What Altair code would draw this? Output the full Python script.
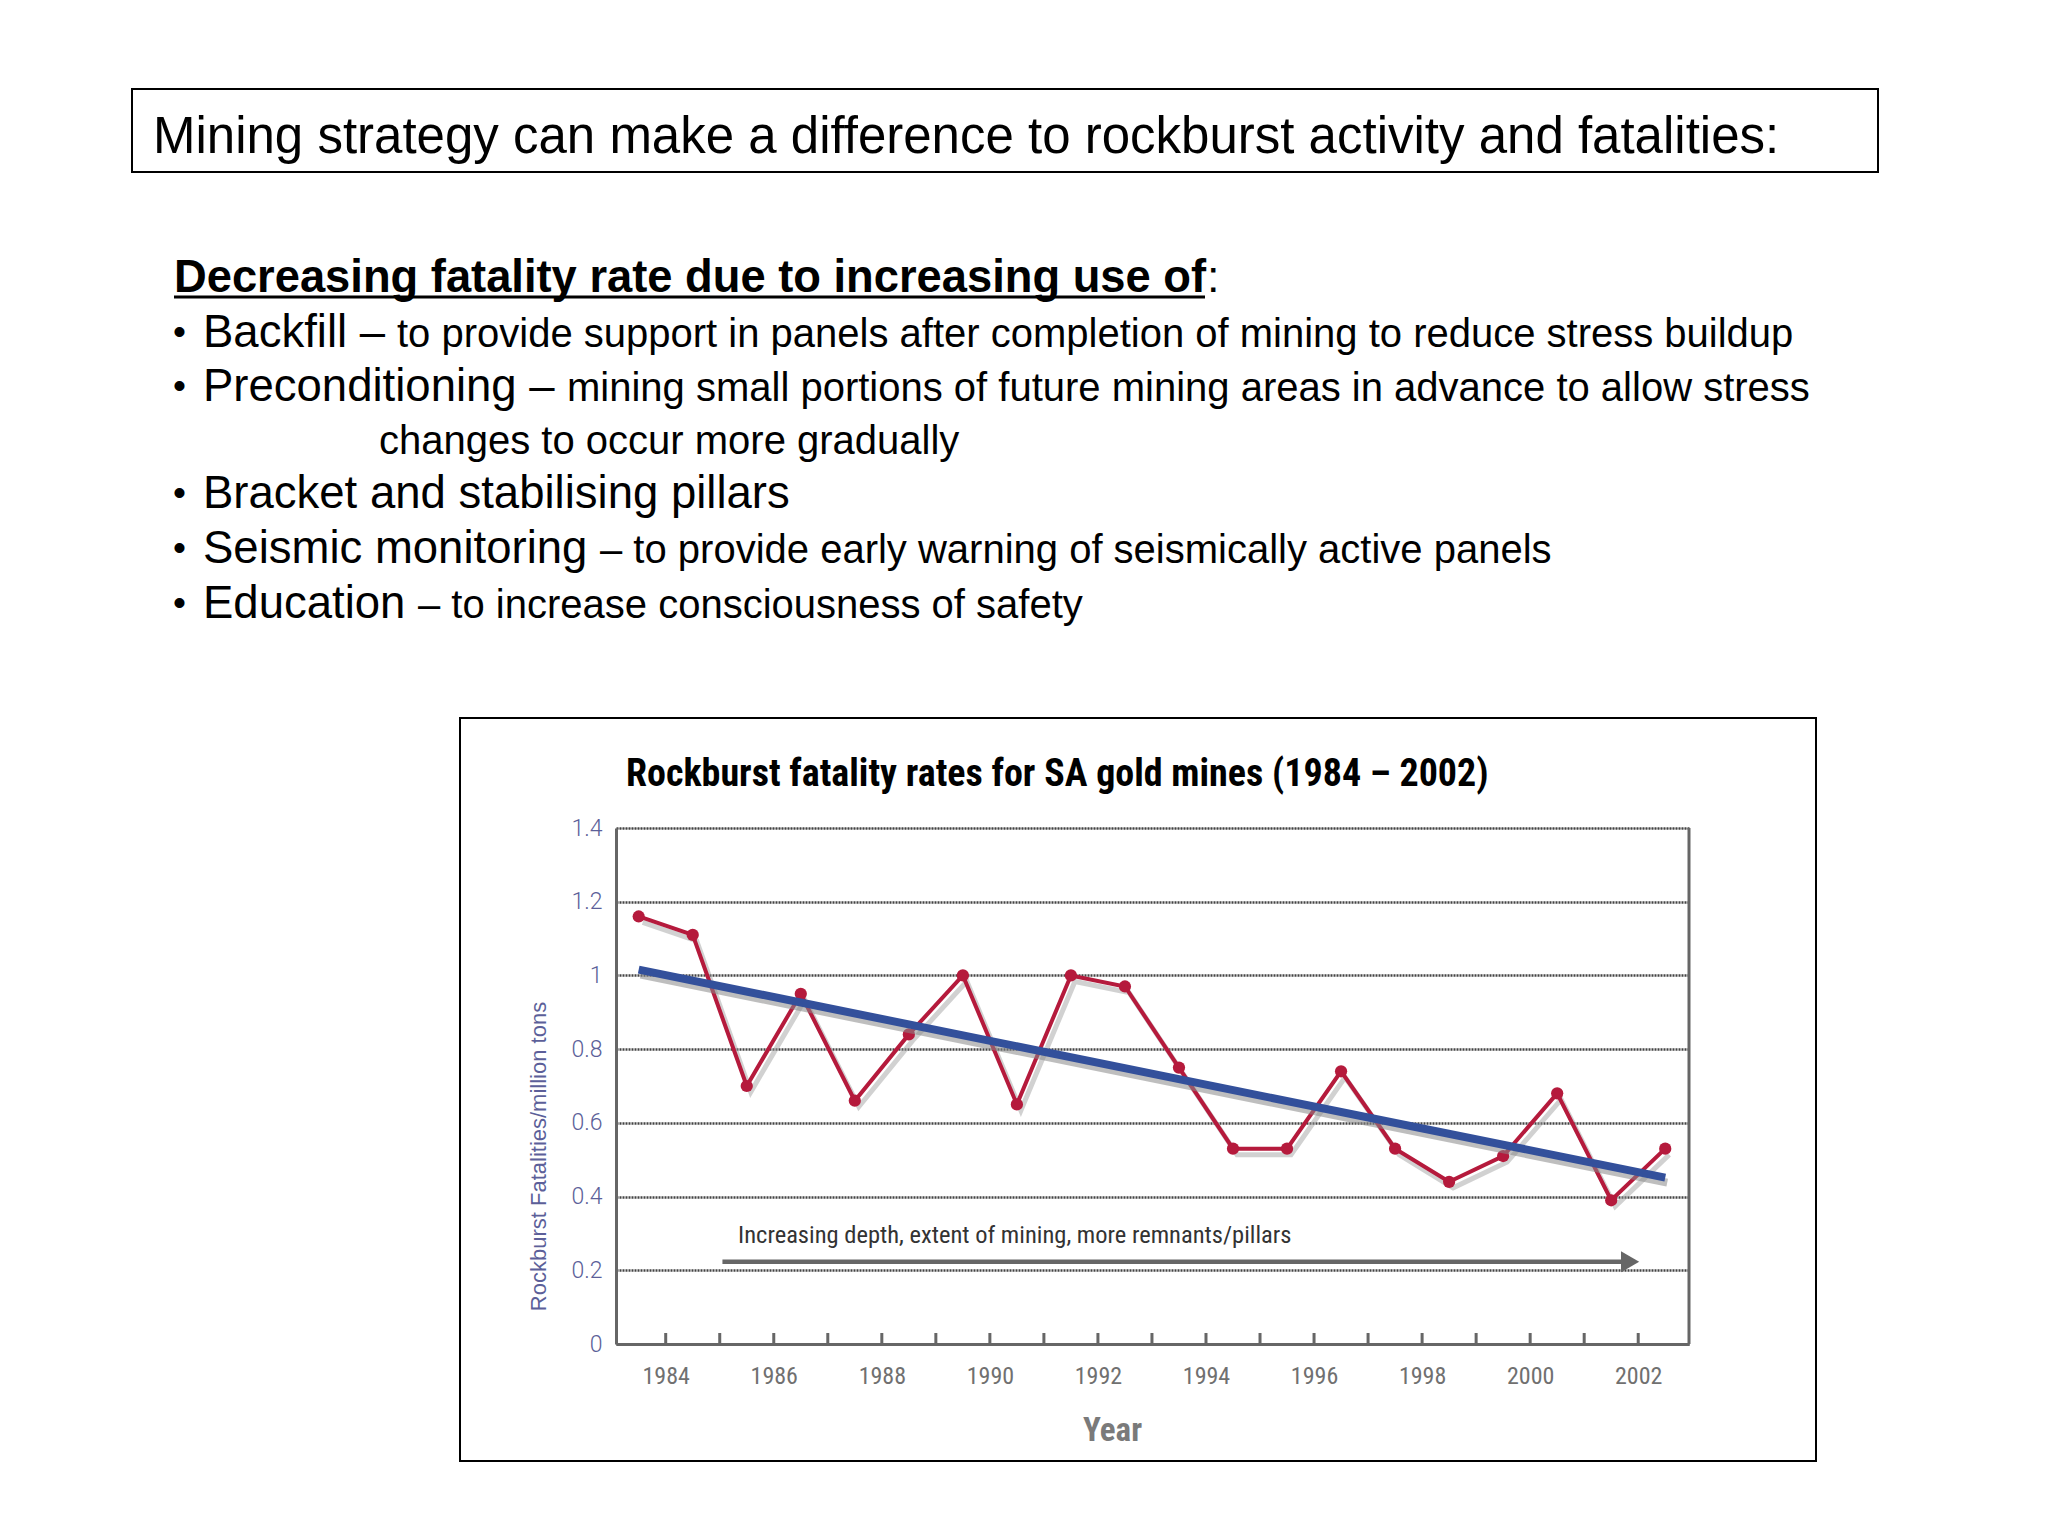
import altair as alt
import pandas as pd

# ---------------- data ----------------
years = list(range(1983, 2003))          # 20 annual observations (plotted mid-year)
rate = [1.16, 1.11, 0.70, 0.95, 0.66, 0.84, 1.00, 0.65, 1.00, 0.97,
        0.75, 0.53, 0.53, 0.74, 0.53, 0.44, 0.51, 0.68, 0.39, 0.53]
tick_years = list(range(1984, 2003))
label_years = list(range(1984, 2003, 2))
y_ticks = [0, 0.2, 0.4, 0.6, 0.8, 1, 1.2, 1.4]

arrow_from = [1985.05]
arrow_to = [2001.75]
arrow_head = [2001.85]
arrow_level = [0.223]
note_x = [1985.34]
note_level = [0.275]

slide_title = "Mining strategy can make a difference to rockburst activity and fatalities:"
heading = "Decreasing fatality rate due to increasing use of"
bullet_main = ["Backfill –", "Preconditioning –", "Bracket and stabilising pillars",
               "Seismic monitoring", "Education"]
bullet_detail = ["to provide support in panels after completion of mining to reduce stress buildup",
                 "mining small portions of future mining areas in advance to allow stress",
                 "",
                 "– to provide early warning of seismically active panels",
                 "– to increase consciousness of safety"]
continuation = "changes to occur more gradually"
chart_title = "Rockburst fatality rates for SA gold mines (1984 – 2002)"
note = "Increasing depth, extent of mining, more remnants/pillars"
y_title = "Rockburst  Fatalities/million tons"
x_title = "Year"

# ---------------- layout constants ----------------
OX, OY = 616, 828          # page position of plot origin
W, H = 1073, 516
SANS = "Liberation Sans"
NARROW = "Liberation Sans Narrow, Arial Narrow, Roboto Condensed, Liberation Sans"
RED = "#b51a3c"
BLUE = "#33509b"
GRAY = "#666666"
YBLUE = "#5c5f99"

df = pd.DataFrame({"year": years, "rate": rate})

xscale = alt.Scale(domain=[1983.08, 2002.94], nice=False, zero=False)
yscale = alt.Scale(domain=[0, 1.4], nice=False)

xaxis = alt.Axis(values=label_years, format="d", ticks=False, tickSize=0, grid=False,
                 domainColor=GRAY, domainWidth=3, labelFont=NARROW, labelFontSize=24,
                 labelColor="#707070", labelPadding=20, title=x_title, titleFont=NARROW,
                 titleFontSize=33, titleFontWeight="bold", titleColor="#7a7a7a",
                 titleX=496, titleY=86, titleBaseline="middle", titleAlign="center")
yaxis = alt.Axis(values=y_ticks, format="~g", ticks=False, tickSize=0, grid=True,
                 gridColor="#444444", gridDash=[2, 1], gridWidth=2.5,
                 domainColor=GRAY, domainWidth=3, labelFont="Roboto", labelFontWeight=300,
                 labelFontSize=23, labelColor=YBLUE, labelPadding=14,
                 title=y_title, titleFont=SANS, titleFontSize=22, titleFontWeight="normal",
                 titleColor=YBLUE, titleAngle=270, titleX=-78, titleY=328,
                 titleAlign="center", titleBaseline="middle")

X = alt.X("xpos:Q", scale=xscale, axis=xaxis)
Y = alt.Y("rate:Q", scale=yscale, axis=yaxis)

base = alt.Chart(df).transform_calculate(xpos="datum.year + 0.5")


def txt(s, px, py, size, weight="normal", font=SANS, color="black"):
    return alt.Chart(pd.DataFrame({"t": [s]})).mark_text(
        align="left", baseline="alphabetic", fontSize=size, fontWeight=weight,
        font=font, color=color
    ).encode(x=alt.value(px - OX), y=alt.value(py - OY), text="t:N")


def box(x1, y1, x2, y2, sw=2):
    return alt.Chart(pd.DataFrame({"k": [0]})).mark_rect(
        fill="transparent", stroke="black", strokeWidth=sw
    ).encode(x=alt.value(x1 - OX), x2=alt.value(x2 - OX),
             y=alt.value(y1 - OY), y2=alt.value(y2 - OY))


layers = []

# page anchor (fixes the drawing to page coordinates)
layers.append(alt.Chart(pd.DataFrame({"k": [0]})).mark_rect(opacity=0).encode(
    x=alt.value(8 - OX), x2=alt.value(2030 - OX), y=alt.value(8 - OY), y2=alt.value(1520 - OY)))

# main data layers
shadow_red = base.mark_line(color="#999999", opacity=0.45, strokeWidth=5,
                            xOffset=4, yOffset=6).encode(x=X, y=Y)
trend_shadow = base.transform_regression("xpos", "rate").mark_line(
    color="#888888", opacity=0.55, strokeWidth=8, strokeCap="butt",
    xOffset=2, yOffset=5).encode(x=X, y=Y)
red_line = base.mark_line(color=RED, strokeWidth=4).encode(x=X, y=Y)
red_pts = base.mark_point(color=RED, filled=True, opacity=1, size=150).encode(x=X, y=Y)
trend = base.transform_regression("xpos", "rate").mark_line(
    color=BLUE, strokeWidth=8, strokeCap="butt").encode(x=X, y=Y)

layers += [shadow_red, red_line, red_pts, trend_shadow, trend]

# inward x ticks
layers.append(alt.Chart(pd.DataFrame({"xpos": tick_years})).mark_rule(
    color=GRAY, strokeWidth=3).encode(x=X, y=alt.value(H), y2=alt.value(H - 11)))

# right frame line
layers.append(alt.Chart(pd.DataFrame({"k": [0]})).mark_rule(color=GRAY, strokeWidth=3).encode(
    x=alt.value(W), y=alt.value(0), y2=alt.value(H)))

# arrow
arrow_df = pd.DataFrame({"xpos": arrow_from, "xpos2": arrow_to, "rate": arrow_level})
layers.append(alt.Chart(arrow_df).mark_rule(color=GRAY, strokeWidth=4.5).encode(
    x=X, x2="xpos2:Q", y=Y))
head_df = pd.DataFrame({"xpos": arrow_head, "rate": arrow_level})
layers.append(alt.Chart(head_df).mark_point(shape="triangle-right", filled=True,
                                            color=GRAY, opacity=1, size=440).encode(x=X, y=Y))
note_df = pd.DataFrame({"xpos": note_x, "rate": note_level, "t": [note]})
layers.append(alt.Chart(note_df).mark_text(align="left", baseline="alphabetic", font=NARROW,
                                           fontSize=24.5, color="#333333").encode(
    x=X, y=Y, text="t:N"))

# frames
layers.append(box(132, 89, 1878, 172))
layers.append(box(460, 718, 1816, 1461))

# slide texts
layers.append(txt(slide_title, 153, 153, 51))
layers.append(txt(heading, 174, 292, 45.3, weight="bold"))
layers.append(txt(":", 1207, 292, 45))
layers.append(alt.Chart(pd.DataFrame({"k": [0]})).mark_rule(color="black", strokeWidth=3).encode(
    x=alt.value(174 - OX), x2=alt.value(1205 - OX), y=alt.value(297 - OY)))

baselines = [347, 401, 508, 563, 618]
detail_x = [397, 567, None, 600, 418]
for i, main in enumerate(bullet_main):
    b = baselines[i]
    layers.append(txt("•", 173, b - 3, 37))
    layers.append(txt(main, 203, b, 45.5))
    if bullet_detail[i]:
        layers.append(txt(bullet_detail[i], detail_x[i], b, 40))
layers.append(txt(continuation, 379, 454, 40))

# chart title
layers.append(txt(chart_title, 626, 786, 38, weight="bold", font=NARROW))

chart = alt.layer(*layers).properties(width=W, height=H, padding=0).configure_view(
    stroke=None).configure(background="white")

chart.save("out.html", embed_options={"renderer": "svg", "actions": False})
